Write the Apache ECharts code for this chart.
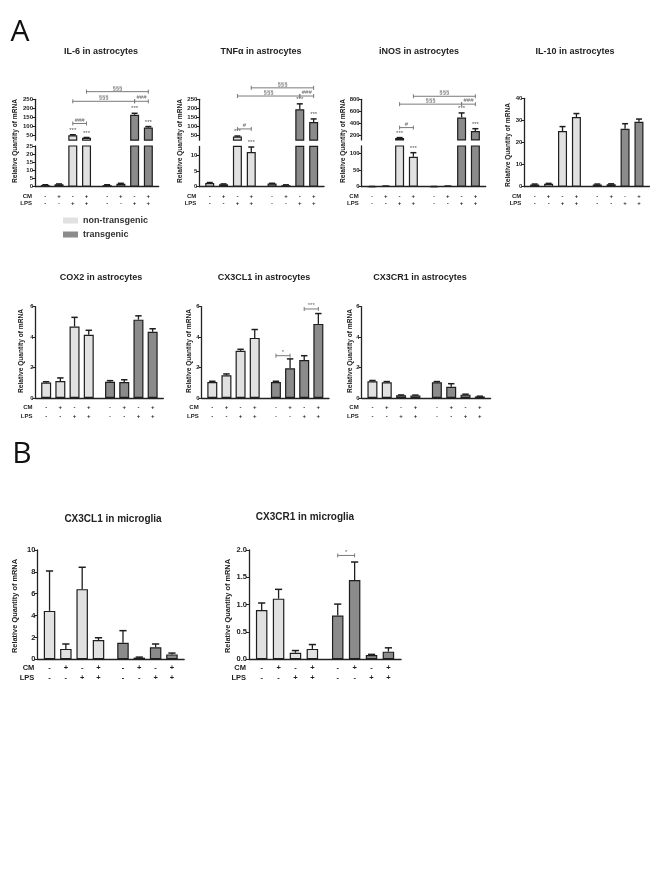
<!DOCTYPE html>
<html><head><meta charset="utf-8">
<script src="https://cdn.jsdelivr.net/npm/echarts@6/dist/echarts.min.js"></script>
<style>html,body{margin:0;padding:0;background:#fff}#c{width:653px;height:884px}</style>
</head><body><div id="c"></div>
<script>
// ------------------------- DATA -------------------------
const groupNames = ['non-transgenic', 'transgenic'];
const cmSigns  = ['-', '+', '-', '+', '-', '+', '-', '+'];
const lpsSigns = ['-', '-', '+', '+', '-', '-', '+', '+'];

// IL-6 in astrocytes (broken axis)
const il6Mean = [1.0, 1.5, 52, 38, 1.0, 1.8, 165, 95];
const il6Err  = [0.2, 0.2, 3, 2, 0.2, 0.3, 8, 5];
const il6Stars = ['', '', '***', '***', '', '', '***', '***'];
const il6Brackets = [[2, 3, 117, '###'], [2, 6, 239, '§§§'], [6, 7, 239, '###'], [3, 7, 292, '§§§']];
const il6LowerRange = [0, 25], il6LowerTicks = [0, 5, 10, 15, 20, 25];
const il6UpperRange = [25, 250], il6UpperTicks = [50, 100, 150, 200, 250];

// TNFα in astrocytes (broken axis)
const tnfMean = [1.2, 0.8, 45, 11.2, 1.0, 0.5, 195, 125];
const tnfErr  = [0.15, 0.1, 3, 1.6, 0.1, 0.1, 30, 17];
const tnfStars = ['', '', '***', '***', '', '', '***', '***'];
const tnfBrackets = [[2, 3, 87, '#'], [2, 6, 268, '§§§'], [6, 7, 268, '###'], [3, 7, 313, '§§§']];
const tnfLowerRange = [0, 13], tnfLowerTicks = [0, 5, 10];
const tnfUpperRange = [25, 250], tnfUpperTicks = [50, 100, 150, 200, 250];

// iNOS in astrocytes (broken axis)
const inosMean = [0.5, 1.5, 160, 90, 0.5, 1.5, 500, 275];
const inosErr  = [0.2, 0.3, 8, 12, 0.2, 0.3, 75, 40];
const inosStars = ['', '', '***', '***', '', '', '***', '***'];
const inosBrackets = [[2, 3, 333, '#'], [2, 6, 720, '§§§'], [6, 7, 720, '###'], [3, 7, 850, '§§§']];
const inosLowerRange = [0, 122], inosLowerTicks = [0, 50, 100];
const inosUpperRange = [130, 800], inosUpperTicks = [200, 400, 600, 800];

// IL-10 in astrocytes
const il10Mean = [1.0, 1.3, 25.2, 31.5, 1.0, 1.1, 26.2, 29.4];
const il10Err  = [0.2, 0.2, 2.0, 1.6, 0.2, 0.2, 2.3, 1.2];
const il10Range = [0, 40], il10Ticks = [0, 10, 20, 30, 40];

// COX2 in astrocytes
const cox2Mean = [1.02, 1.12, 4.7, 4.15, 1.07, 1.05, 5.15, 4.35];
const cox2Err  = [0.05, 0.2, 0.6, 0.3, 0.07, 0.15, 0.25, 0.2];
const astroRange = [0, 6], astroTicks = [0, 2, 4, 6];

// CX3CL1 in astrocytes
const cx3cl1AMean = [1.05, 1.5, 3.1, 3.95, 1.05, 1.95, 2.5, 4.87];
const cx3cl1AErr  = [0.05, 0.08, 0.1, 0.55, 0.05, 0.62, 0.28, 0.68];
const cx3cl1ABrackets = [[4, 5, 2.78, '*'], [6, 7, 5.85, '***']];

// CX3CR1 in astrocytes
const cx3cr1AMean = [1.1, 1.03, 0.18, 0.17, 1.03, 0.74, 0.22, 0.1];
const cx3cr1AErr  = [0.05, 0.05, 0.02, 0.02, 0.05, 0.2, 0.03, 0.02];

// CX3CL1 in microglia
const cx3cl1MMean = [4.43, 0.95, 6.42, 1.77, 1.52, 0.15, 1.1, 0.45];
const cx3cl1MErr  = [3.65, 0.45, 2.0, 0.2, 1.1, 0.05, 0.3, 0.12];
const cx3cl1MRange = [0, 10], cx3cl1MTicks = [0, 2, 4, 6, 8, 10];

// CX3CR1 in microglia
const cx3cr1MMean = [0.9, 1.11, 0.12, 0.19, 0.8, 1.45, 0.08, 0.14];
const cx3cr1MErr  = [0.13, 0.17, 0.04, 0.08, 0.21, 0.33, 0.01, 0.07];
const cx3cr1MBrackets = [[4, 5, 1.9, '*']];
const cx3cr1MRange = [0, 2], cx3cr1MTicks = [0, 0.5, 1, 1.5, 2];

// ------------------------- STYLE / LAYOUT -------------------------
const FONT = "'Liberation Sans', Arial, sans-serif";
const NARROW = "'Liberation Sans Narrow', 'Liberation Sans', Arial, sans-serif";
const LIGHT = '#e1e1e1', DARK = '#8b8b8b', EDGE = '#1e1e1e', AXIS = '#222', BR = '#7a7a7a';
const NSLOT = 18;
const barSlot = [1, 3, 5, 7, 10, 12, 14, 16];
const slotNames = Array.from({length: NSLOT}, (_, i) => 's' + i);
const yName = 'Relative Quantity of mRNA';

const row1 = {y0: 186.7, tickFont: 6, signFont: 6, signLH: 7, signMargin: 5.8, signY: [196, 203], bw: 9, nameFont: 6.6, cap: 3};
const row2 = {y0: 398, tickFont: 6, signFont: 6, signLH: 9, signMargin: 5.2, signY: [407.7, 416.7], bw: 10, nameFont: 6.6, cap: 3.2};
const rowB = {y0: 659.3, tickFont: 7.5, signFont: 7.5, signLH: 10, signMargin: 3.7, signY: [668, 678], bw: 11.5, nameFont: 7.4, cap: 3.6};

const charts = [
  Object.assign({}, row1, {title: 'IL-6 in astrocytes', tx: 101, ty: 52, ax: 35, w: 6.87, nameX: 15, nameY: 141,
    mean: il6Mean, err: il6Err, stars: il6Stars, brackets: il6Brackets,
    lower: {range: il6LowerRange, ticks: il6LowerTicks, top: 146},
    upper: {range: il6UpperRange, ticks: il6UpperTicks, top: 99.3, bottom: 140.2}}),
  Object.assign({}, row1, {title: 'TNFα in astrocytes', tx: 261, ty: 52, ax: 199.3, w: 6.93, nameX: 180, nameY: 141,
    mean: tnfMean, err: tnfErr, stars: tnfStars, brackets: tnfBrackets,
    lower: {range: tnfLowerRange, ticks: tnfLowerTicks, top: 146.4},
    upper: {range: tnfUpperRange, ticks: tnfUpperTicks, top: 99.3, bottom: 140.2}}),
  Object.assign({}, row1, {title: 'iNOS in astrocytes', tx: 419, ty: 52, ax: 361.7, w: 6.89, nameX: 343, nameY: 141,
    mean: inosMean, err: inosErr, stars: inosStars, brackets: inosBrackets,
    lower: {range: inosLowerRange, ticks: inosLowerTicks, top: 146},
    upper: {range: inosUpperRange, ticks: inosUpperTicks, top: 99.3, bottom: 139.9}}),
  Object.assign({}, row1, {title: 'IL-10 in astrocytes', tx: 575, ty: 52, ax: 524.3, w: 6.95, nameX: 508, nameY: 145,
    mean: il10Mean, err: il10Err, range: il10Range, ticks: il10Ticks, top: 98.3}),
  Object.assign({}, row2, {title: 'COX2 in astrocytes', tx: 101, ty: 278, ax: 35.5, w: 7.1, nameX: 21, nameY: 351,
    mean: cox2Mean, err: cox2Err, range: astroRange, ticks: astroTicks, top: 306.7}),
  Object.assign({}, row2, {title: 'CX3CL1 in astrocytes', tx: 264, ty: 278, ax: 201.7, w: 7.07, nameX: 189, nameY: 351,
    mean: cx3cl1AMean, err: cx3cl1AErr, brackets: cx3cl1ABrackets, range: astroRange, ticks: astroTicks, top: 306.7}),
  Object.assign({}, row2, {title: 'CX3CR1 in astrocytes', tx: 420, ty: 278, ax: 361.7, w: 7.16, nameX: 350, nameY: 351,
    mean: cx3cr1AMean, err: cx3cr1AErr, range: astroRange, ticks: astroTicks, top: 306.7}),
  Object.assign({}, rowB, {title: 'CX3CL1 in microglia', tx: 113, ty: 519, ax: 37.3, w: 8.16, nameX: 15, nameY: 606, titleFont: 10,
    mean: cx3cl1MMean, err: cx3cl1MErr, range: cx3cl1MRange, ticks: cx3cl1MTicks, top: 550}),
  Object.assign({}, rowB, {title: 'CX3CR1 in microglia', tx: 305, ty: 517, ax: 249, w: 8.45, nameX: 228, nameY: 606, titleFont: 10, dec: 1,
    mean: cx3cr1MMean, err: cx3cr1MErr, brackets: cx3cr1MBrackets, range: cx3cr1MRange, ticks: cx3cr1MTicks, top: 550})
];

// ------------------------- BUILD -------------------------
const option = {
  animation: false,
  backgroundColor: '#fff',
  legend: {
    data: groupNames, orient: 'vertical', left: 58, top: 211, itemWidth: 15, itemHeight: 6, itemGap: 5,
    icon: 'rect', selectedMode: false, itemStyle: {borderWidth: 0},
    textStyle: {fontSize: 9, fontWeight: 'bold', fontFamily: FONT, color: '#333'}
  },
  grid: [], xAxis: [], yAxis: [], series: [], graphic: []
};

function addText(x, y, text, style, rotation) {
  option.graphic.push({type: 'text', x, y, rotation: rotation || 0, silent: true,
    style: Object.assign({text, fill: '#222', fontFamily: FONT, fontWeight: 'bold'}, style)});
}

charts.forEach(c => {
  const segs = c.upper ? [
    {min: c.lower.range[0], max: c.lower.range[1], ticks: c.lower.ticks, top: c.lower.top, bottom: c.y0, isBottom: true},
    {min: c.upper.range[0], max: c.upper.range[1], ticks: c.upper.ticks, top: c.upper.top, bottom: c.upper.bottom, isBottom: false}
  ] : [{min: c.range[0], max: c.range[1], ticks: c.ticks, top: c.top, bottom: c.y0, isBottom: true}];

  const gIdx = segs.map(seg => {
    const gi = option.grid.length;
    option.grid.push({left: c.ax, top: seg.top, width: NSLOT * c.w, height: seg.bottom - seg.top});
    option.xAxis.push({
      gridIndex: gi, type: 'category', data: slotNames, boundaryGap: true,
      axisLine: {show: seg.isBottom, lineStyle: {color: AXIS, width: 1.3}},
      axisTick: {show: false}, splitLine: {show: false},
      axisLabel: {
        show: seg.isBottom, interval: 0, margin: c.signMargin,
        formatter: (v, i) => {
          const b = barSlot.indexOf(i);
          return b < 0 ? '' : '{s|' + cmSigns[b] + '}\n{s|' + lpsSigns[b] + '}';
        },
        rich: {s: {fontSize: c.signFont, lineHeight: c.signLH, fontFamily: FONT, fontWeight: 'bold', color: '#222'}}
      }
    });
    const step = seg.ticks[1] - seg.ticks[0];
    option.yAxis.push({
      gridIndex: gi, type: 'value', min: seg.min, max: seg.max,
      interval: seg.min === seg.ticks[0] ? step : undefined,
      axisLine: {show: true, lineStyle: {color: AXIS, width: 1.3}},
      axisTick: {show: true, length: 3, lineStyle: {color: AXIS, width: 1}, customValues: seg.ticks},
      axisLabel: {customValues: seg.ticks, fontSize: c.tickFont, fontWeight: 'bold', fontFamily: FONT, color: '#222', margin: 2,
        formatter: v => c.dec ? v.toFixed(c.dec) : String(v)},
      splitLine: {show: false}
    });
    // bars: one series per genotype group
    [0, 1].forEach(g => {
      option.series.push({
        type: 'bar', name: groupNames[g], xAxisIndex: gi, yAxisIndex: gi, silent: true,
        barWidth: c.bw, barGap: '-100%', clip: true,
        itemStyle: {color: g ? DARK : LIGHT, borderColor: EDGE, borderWidth: 1.2},
        data: slotNames.map((s, i) => {
          const b = barSlot.indexOf(i);
          return (b >= 0 && Math.floor(b / 4) === g) ? c.mean[b] : null;
        })
      });
    });
    return gi;
  });

  // error bars (+ significance stars), each in the segment that holds its top
  segs.forEach((seg, k) => {
    const items = [];
    c.mean.forEach((m, b) => {
      const top = m + c.err[b];
      const seg0 = segs.length === 1 ? 0 : (top <= segs[0].max ? 0 : 1);
      if (seg0 === k) items.push([barSlot[b], m, top, b]);
    });
    option.series.push({
      type: 'custom', xAxisIndex: gIdx[k], yAxisIndex: gIdx[k], silent: true, z: 5,
      encode: {x: 0, y: [1, 2]}, data: items,
      renderItem: (params, api) => {
        const x = api.value(0), m = api.value(1), t = api.value(2), b = api.value(3);
        const p0 = api.coord([x, m]), p1 = api.coord([x, t]);
        const ch = [
          {type: 'line', shape: {x1: p0[0], y1: p0[1], x2: p1[0], y2: p1[1]}, style: {stroke: EDGE, lineWidth: 1.3}},
          {type: 'line', shape: {x1: p1[0] - c.cap, y1: p1[1], x2: p1[0] + c.cap, y2: p1[1]}, style: {stroke: EDGE, lineWidth: 1.5}}
        ];
        const star = c.stars && c.stars[b];
        if (star) ch.push({type: 'text', x: p1[0], y: p1[1] - 1.5,
          style: {text: star, align: 'center', verticalAlign: 'bottom', fontSize: 6, fill: '#555', fontFamily: FONT}});
        return {type: 'group', children: ch};
      }
    });
  });

  // significance brackets
  if (c.brackets) {
    const gi = gIdx[gIdx.length - 1];
    option.series.push({
      type: 'custom', xAxisIndex: gi, yAxisIndex: gi, silent: true, z: 6,
      encode: {x: [0, 1], y: 2},
      data: c.brackets.map(br => [barSlot[br[0]], barSlot[br[1]], br[2]]),
      renderItem: (params, api) => {
        const lab = c.brackets[params.dataIndex][3];
        const a = api.coord([api.value(0), api.value(2)]);
        const e = api.coord([api.value(1), api.value(2)]);
        return {type: 'group', children: [
          {type: 'line', shape: {x1: a[0], y1: a[1], x2: e[0], y2: e[1]}, style: {stroke: BR, lineWidth: 1}},
          {type: 'line', shape: {x1: a[0], y1: a[1] - 2, x2: a[0], y2: a[1] + 2}, style: {stroke: BR, lineWidth: 1}},
          {type: 'line', shape: {x1: e[0], y1: e[1] - 2, x2: e[0], y2: e[1] + 2}, style: {stroke: BR, lineWidth: 1}},
          {type: 'text', x: (a[0] + e[0]) / 2, y: a[1] - 0.5,
            style: {text: lab, align: 'center', verticalAlign: 'bottom', fontSize: 6, fill: '#666', fontFamily: FONT}}
        ]};
      }
    });
  }

  // texts
  addText(c.tx, c.ty, c.title, {fontSize: c.titleFont || 9, fontFamily: NARROW, align: 'center', verticalAlign: 'middle'});
  addText(c.nameX, c.nameY, yName, {fontSize: c.nameFont, align: 'center', verticalAlign: 'middle'}, Math.PI / 2);
  addText(c.ax - 3, c.signY[0], 'CM', {fontSize: c.signFont, align: 'right', verticalAlign: 'middle'});
  addText(c.ax - 3, c.signY[1], 'LPS', {fontSize: c.signFont, align: 'right', verticalAlign: 'middle'});
});

addText(20, 32, 'A', {fontSize: 30, fontWeight: 'normal', fontFamily: "'Open Sans', 'Noto Sans', sans-serif", fill: '#111', align: 'center', verticalAlign: 'middle'});
addText(22, 454, 'B', {fontSize: 30, fontWeight: 'normal', fontFamily: "'Open Sans', 'Noto Sans', sans-serif", fill: '#111', align: 'center', verticalAlign: 'middle'});

const chart = echarts.init(document.getElementById('c'), null, {renderer: 'canvas'});
chart.setOption(option);
</script>
</body></html>
